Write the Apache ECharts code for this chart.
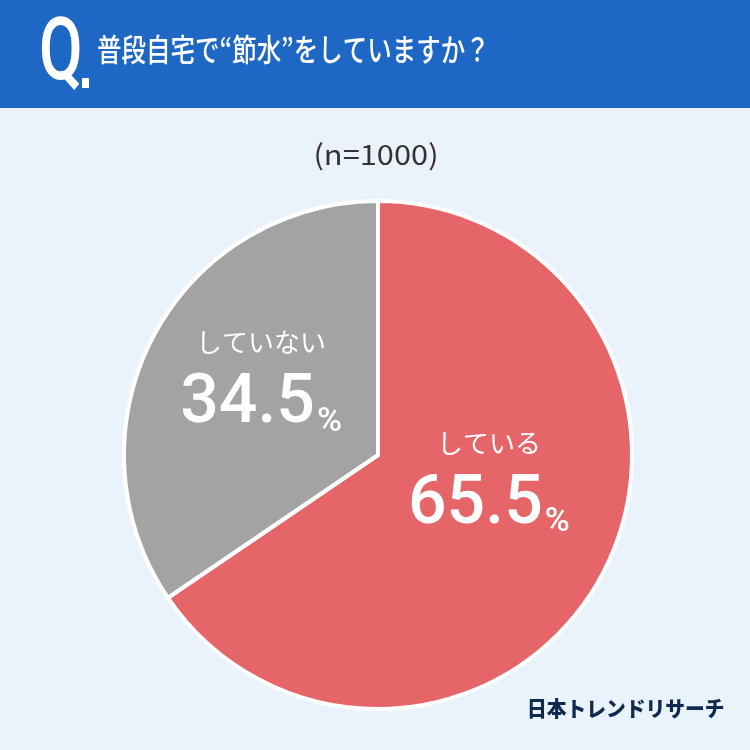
<!DOCTYPE html>
<html><head><meta charset="utf-8">
<script src="https://cdn.jsdelivr.net/npm/echarts@6/dist/echarts.min.js"></script>
<style>html,body{margin:0;padding:0;background:#eaf3fc;}#c{width:750px;height:750px;}</style>
</head><body><div id="c"></div>
<script>
const categories = ['している', 'していない'];
const values = [65.5, 34.5];
const colors = ['#e56568', '#a3a3a3'];
const titleText = '普段自宅で“節水”をしていますか？';
const sampleText = '(n=1000)';
const sourceText = '日本トレンドリサーチ';

const chart = echarts.init(document.getElementById('c'));
const labelOffsets = [[-4, -37], [-2, -16]];
chart.setOption({
  backgroundColor: '#eaf3fc',
  animation: false,
  graphic: [
    { type: 'rect', left: 0, top: 0, shape: { width: 750, height: 108 }, style: { fill: '#1e67c5' } },
    { type: 'text', x: 39, y: 13, scaleX: 0.72, style: { text: 'Q', fill: '#fff', font: '500 88px Roboto' } },
    { type: 'rect', left: 82, top: 78, shape: { width: 7, height: 10 }, style: { fill: '#fff' } },
    { type: 'text', x: 97, y: 34, scaleX: 0.79, style: { text: titleText, fill: '#fff', font: '500 31px "Noto Sans CJK JP"' } },
    { type: 'text', x: 376, y: 140, scaleX: 1.1, style: { text: sampleText, fill: '#333', font: '400 28px "Noto Sans CJK JP"', textAlign: 'center' } },
    { type: 'text', x: 527, y: 698, scaleX: 0.94, style: { text: sourceText, fill: '#102a4f', font: '900 21px "Noto Sans CJK JP"' } }
  ],
  series: [{
    type: 'pie',
    center: [378, 455],
    radius: 254,
    startAngle: 90,
    clockwise: true,
    silent: true,
    itemStyle: { borderColor: '#ffffff', borderWidth: 4 },
    label: {
      show: true,
      position: 'inside',
      color: '#fff',
      formatter: p => '{a|' + p.name + '}\n{b|' + p.value.toFixed(1) + '}{c|%}',
      rich: {
        a: { fontFamily: '"Noto Sans CJK JP"', fontSize: 26, fontWeight: 400, color: '#fff', lineHeight: 50 },
        b: { fontFamily: 'Roboto', fontSize: 68, fontWeight: 500, color: '#fff', lineHeight: 72, verticalAlign: 'bottom' },
        c: { fontFamily: 'Roboto', fontSize: 34, fontWeight: 500, color: '#fff', lineHeight: 72, verticalAlign: 'bottom', padding: [0, 0, 0, 2] }
      }
    },
    labelLine: { show: false },
    data: categories.map((c, i) => ({
      name: c, value: values[i],
      itemStyle: { color: colors[i] },
      label: { offset: labelOffsets[i] }
    }))
  }]
});
</script></body></html>
